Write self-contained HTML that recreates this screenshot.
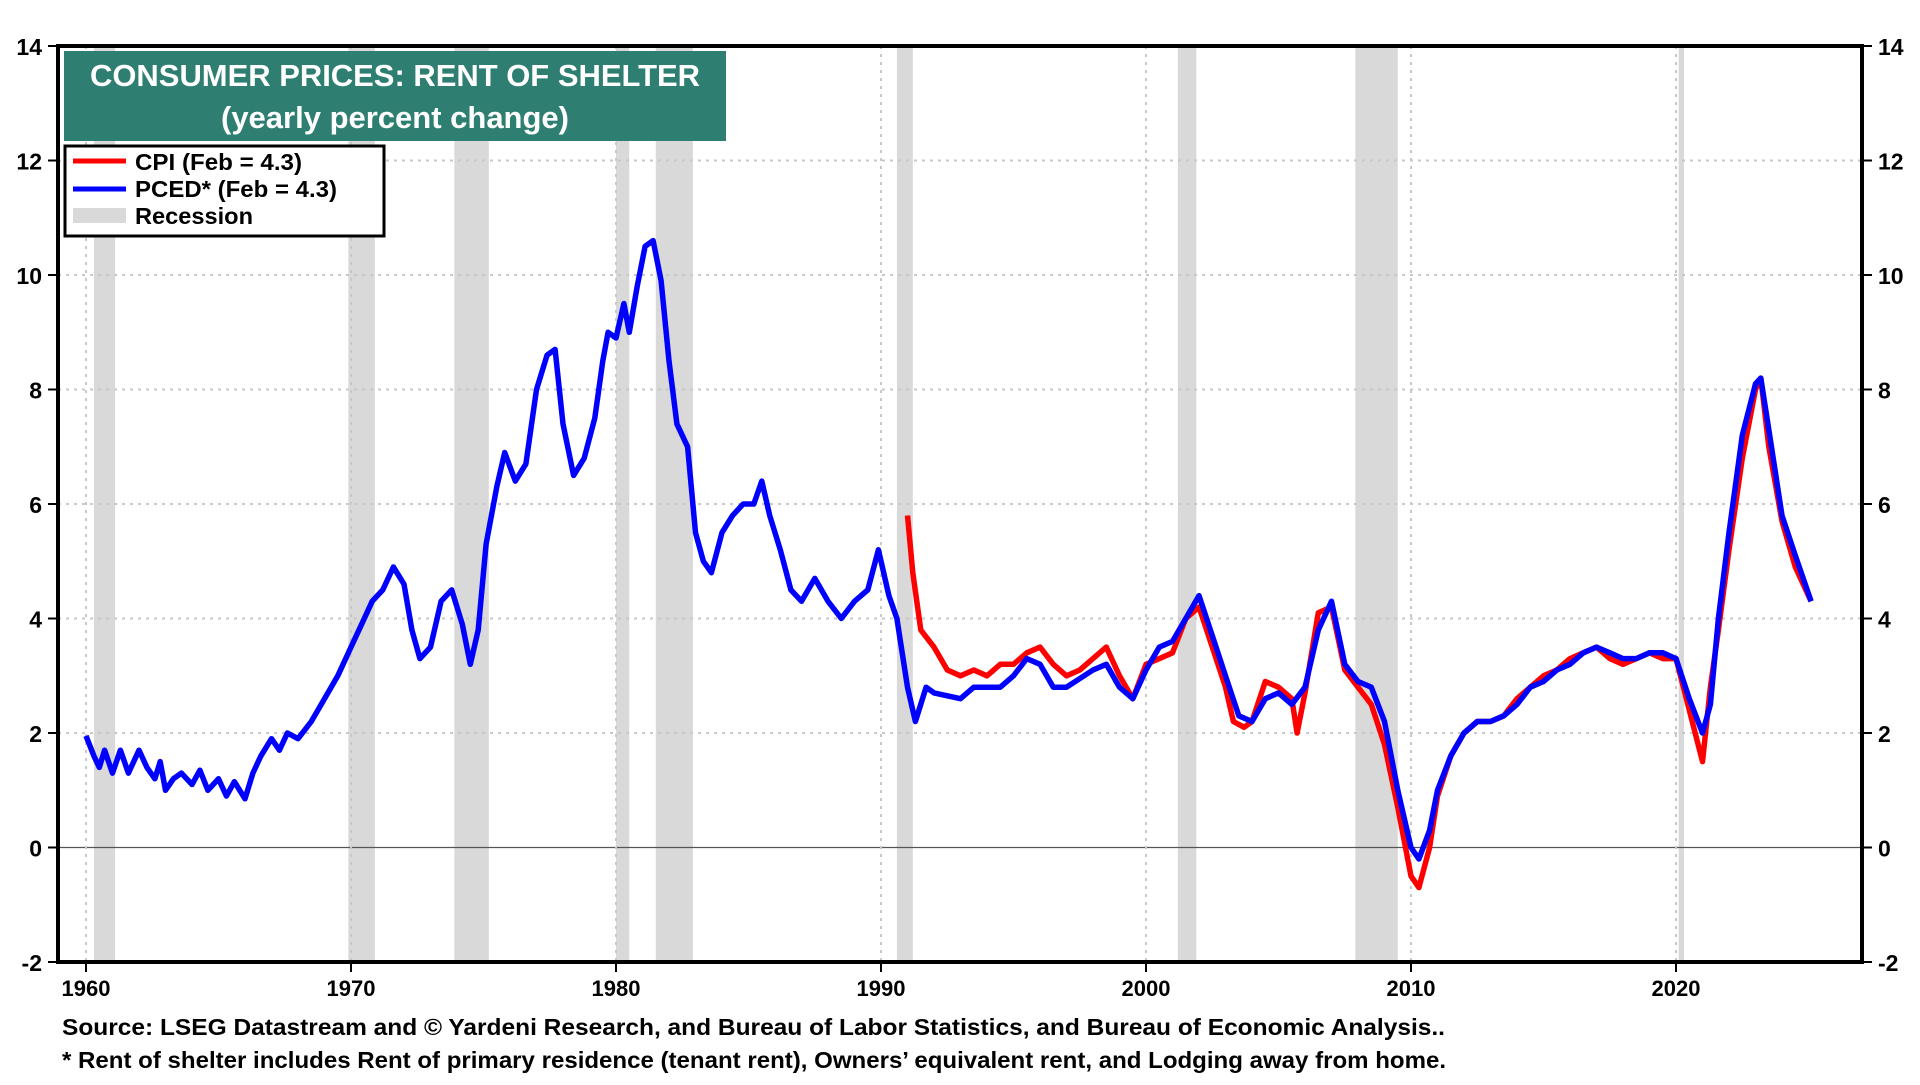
<!DOCTYPE html>
<html><head><meta charset="utf-8">
<style>
html,body{margin:0;padding:0;background:#fff;}
body{width:1920px;height:1080px;overflow:hidden;font-family:"Liberation Sans",Arial,sans-serif;}
svg text{font-family:"Liberation Sans",Arial,sans-serif;font-weight:bold;}
</style></head>
<body>
<svg id="chart" width="1920" height="1080" viewBox="0 0 1920 1080" xmlns="http://www.w3.org/2000/svg">
<g id="rec"></g>
<g id="grid"></g>
<g id="series"></g>
<g id="axes"></g>
<g>
<rect x="64" y="51" width="662" height="90" fill="#2e7f72"/>
<text x="395" y="86" font-size="31" fill="#fff" text-anchor="middle" textLength="610" lengthAdjust="spacingAndGlyphs">CONSUMER PRICES: RENT OF SHELTER</text>
<text x="395" y="128" font-size="31" fill="#fff" text-anchor="middle" textLength="348" lengthAdjust="spacingAndGlyphs">(yearly percent change)</text>
</g>
<g>
<rect x="65" y="146" width="319" height="90" fill="#fff" stroke="#000" stroke-width="3"/>
<g><line x1="73" y1="161" x2="126" y2="161" stroke="#f00" stroke-width="5"/><text x="135" y="170" font-size="23" textLength="167" lengthAdjust="spacingAndGlyphs">CPI (Feb = 4.3)</text></g>
<g><line x1="73" y1="189" x2="126" y2="189" stroke="#00f" stroke-width="5"/><text x="135" y="197" font-size="23" textLength="202" lengthAdjust="spacingAndGlyphs">PCED* (Feb = 4.3)</text></g>
<g><rect x="73" y="208" width="53" height="15" fill="#d9d9d9"/><text x="135" y="224" font-size="23" textLength="118" lengthAdjust="spacingAndGlyphs">Recession</text></g>
</g>
<text x="62" y="1035" font-size="23" textLength="1383" lengthAdjust="spacingAndGlyphs">Source: LSEG Datastream and © Yardeni Research, and Bureau of Labor Statistics, and Bureau of Economic Analysis..</text>
<text x="62" y="1068" font-size="23" textLength="1384" lengthAdjust="spacingAndGlyphs">* Rent of shelter includes Rent of primary residence (tenant rent), Owners’ equivalent rent, and Lodging away from home.</text>
</svg>
<script>
const recessionStarts=[1960.3,1969.9,1973.9,1980.0,1981.5,1990.6,2001.2,2007.9,2020.1];
const recessionEnds=[1961.1,1970.9,1975.2,1980.5,1982.9,1991.2,2001.9,2009.5,2020.3];
const yTicks=[-2,0,2,4,6,8,10,12,14];
const xTicks=[1960,1970,1980,1990,2000,2010,2020];
const pcedYears=[1960.0,1960.3,1960.5,1960.7,1961,1961.3,1961.6,1962,1962.3,1962.6,1962.8,1963,1963.3,1963.6,1964,1964.3,1964.6,1965,1965.3,1965.6,1966,1966.3,1966.6,1967,1967.3,1967.6,1968,1968.5,1969,1969.5,1970,1970.5,1970.8,1971.2,1971.6,1972,1972.3,1972.6,1973,1973.4,1973.8,1974.2,1974.5,1974.8,1975.1,1975.5,1975.8,1976.2,1976.6,1977,1977.4,1977.7,1978,1978.4,1978.8,1979.2,1979.5,1979.7,1980.0,1980.3,1980.5,1980.8,1981.1,1981.4,1981.7,1982,1982.3,1982.7,1983,1983.3,1983.6,1984,1984.4,1984.8,1985.2,1985.5,1985.8,1986.2,1986.6,1987,1987.5,1988,1988.5,1989,1989.5,1989.9,1990.3,1990.6,1991.0,1991.3,1991.7,1992,1993,1993.5,1994,1994.5,1995,1995.5,1996,1996.5,1997,1998,1998.5,1999,1999.5,2000,2000.5,2001,2001.5,2002,2002.5,2003,2003.5,2004,2004.5,2005,2005.5,2006,2006.5,2007,2007.5,2008,2008.5,2009,2009.5,2010,2010.3,2010.7,2011,2011.5,2012,2012.5,2013,2013.5,2014,2014.5,2015,2015.5,2016,2016.5,2017,2017.5,2018,2018.5,2019,2019.5,2020,2020.5,2021,2021.3,2021.6,2022,2022.5,2023,2023.2,2023.5,2024,2024.5,2025.1];
const pcedValues=[1.95,1.6,1.4,1.7,1.3,1.7,1.3,1.7,1.4,1.2,1.5,1.0,1.2,1.3,1.1,1.35,1.0,1.2,0.9,1.15,0.85,1.3,1.6,1.9,1.7,2.0,1.9,2.2,2.6,3.0,3.5,4.0,4.3,4.5,4.9,4.6,3.8,3.3,3.5,4.3,4.5,3.9,3.2,3.8,5.3,6.3,6.9,6.4,6.7,8.0,8.6,8.7,7.4,6.5,6.8,7.5,8.5,9.0,8.9,9.5,9.0,9.8,10.5,10.6,9.9,8.5,7.4,7.0,5.5,5.0,4.8,5.5,5.8,6.0,6.0,6.4,5.8,5.2,4.5,4.3,4.7,4.3,4.0,4.3,4.5,5.2,4.4,4.0,2.8,2.2,2.8,2.7,2.6,2.8,2.8,2.8,3.0,3.3,3.2,2.8,2.8,3.1,3.2,2.8,2.6,3.1,3.5,3.6,4.0,4.4,3.7,3.0,2.3,2.2,2.6,2.7,2.5,2.8,3.8,4.3,3.2,2.9,2.8,2.2,1.0,0.0,-0.2,0.3,1.0,1.6,2.0,2.2,2.2,2.3,2.5,2.8,2.9,3.1,3.2,3.4,3.5,3.4,3.3,3.3,3.4,3.4,3.3,2.6,2.0,2.5,4.0,5.5,7.2,8.1,8.2,7.3,5.8,5.1,4.3];
const cpiYears=[1991.0,1991.2,1991.5,1992,1992.5,1993,1993.5,1994,1994.5,1995,1995.5,1996,1996.5,1997,1997.5,1998,1998.5,1999,1999.5,2000,2000.5,2001,2001.5,2002,2002.5,2003,2003.3,2003.7,2004,2004.5,2005,2005.5,2005.7,2006,2006.5,2007,2007.5,2008,2008.5,2009,2009.5,2010,2010.3,2010.7,2011,2011.5,2012,2012.5,2013,2013.5,2014,2014.5,2015,2015.5,2016,2016.5,2017,2017.5,2018,2018.5,2019,2019.5,2020,2020.5,2021,2021.3,2021.6,2022,2022.5,2023,2023.2,2023.5,2024,2024.5,2025.1];
const cpiValues=[5.8,4.8,3.8,3.5,3.1,3.0,3.1,3.0,3.2,3.2,3.4,3.5,3.2,3.0,3.1,3.3,3.5,3.0,2.6,3.2,3.3,3.4,4.0,4.2,3.5,2.8,2.2,2.1,2.2,2.9,2.8,2.6,2.0,2.7,4.1,4.2,3.1,2.8,2.5,1.8,0.7,-0.5,-0.7,0.0,0.9,1.6,2.0,2.2,2.2,2.3,2.6,2.8,3.0,3.1,3.3,3.4,3.5,3.3,3.2,3.3,3.4,3.3,3.3,2.4,1.5,2.8,3.8,5.2,6.8,8.0,8.2,7.0,5.7,4.9,4.3];

const L=58,R=1862,T=46,B=962;
const X0=1960, PXY=26.5, X0PX=86;
function xs(y){return X0PX+(y-X0)*PXY;}
function ys(v){return B-(v+2)*(B-T)/16;}
const NS="http://www.w3.org/2000/svg";
function mk(tag,attrs,parent){const e=document.createElementNS(NS,tag);for(const k in attrs)e.setAttribute(k,attrs[k]);parent.appendChild(e);return e;}
const rec=document.getElementById('rec'),grid=document.getElementById('grid'),series=document.getElementById('series'),axes=document.getElementById('axes');
recessionStarts.forEach((s,i)=>{
  const r=mk('rect',{x:xs(s),y:T,width:xs(recessionEnds[i])-xs(s),height:B-T,fill:'#d9d9d9'},rec);
  
  
});
yTicks.forEach(v=>{
  const y=ys(v);
  if(v!==-2&&v!==14){
    const g=mk('line',{x1:L,x2:R,y1:y,y2:y,stroke:v===0?'#555':'#c8c8c8','stroke-width':v===0?1.2:2,'stroke-dasharray':v===0?'none':'3,5'},grid);
    
    
  }
  mk('line',{x1:L-10,x2:L,y1:y,y2:y,stroke:'#000','stroke-width':2},axes);
  mk('line',{x1:R,x2:R+10,y1:y,y2:y,stroke:'#000','stroke-width':2},axes);
  const t1=mk('text',{x:L-16,y:y+9,'font-size':23,'text-anchor':'end'},axes);t1.textContent=v;
  
  
  const t2=mk('text',{x:R+16,y:y+9,'font-size':23,'text-anchor':'start'},axes);t2.textContent=v;
  
  
});
xTicks.forEach(yr=>{
  const x=xs(yr);
  const g=mk('line',{x1:x,x2:x,y1:T,y2:B,stroke:'#c8c8c8','stroke-width':2,'stroke-dasharray':'3,5'},grid);
  
  
  mk('line',{x1:x,x2:x,y1:B,y2:B+10,stroke:'#000','stroke-width':2},axes);
  const t=mk('text',{x:x,y:B+34,'font-size':22,'text-anchor':'middle'},axes);t.textContent=yr;
  
  
});
function path(xsArr,vals,color,name){
  const d=xsArr.map((yr,i)=>(i?'L':'M')+xs(yr).toFixed(1)+','+ys(vals[i]).toFixed(1)).join(' ');
  const p=mk('path',{d:d,fill:'none',stroke:color,'stroke-width':5.5,'stroke-linejoin':'round'},series);
  
  
}
path(cpiYears,cpiValues,'#ff0000','cpi-line');
path(pcedYears,pcedValues,'#0000ff','pced-line');
const fr=mk('rect',{x:L,y:T,width:R-L,height:B-T,fill:'none',stroke:'#000','stroke-width':4},axes);


</script>
</body></html>
